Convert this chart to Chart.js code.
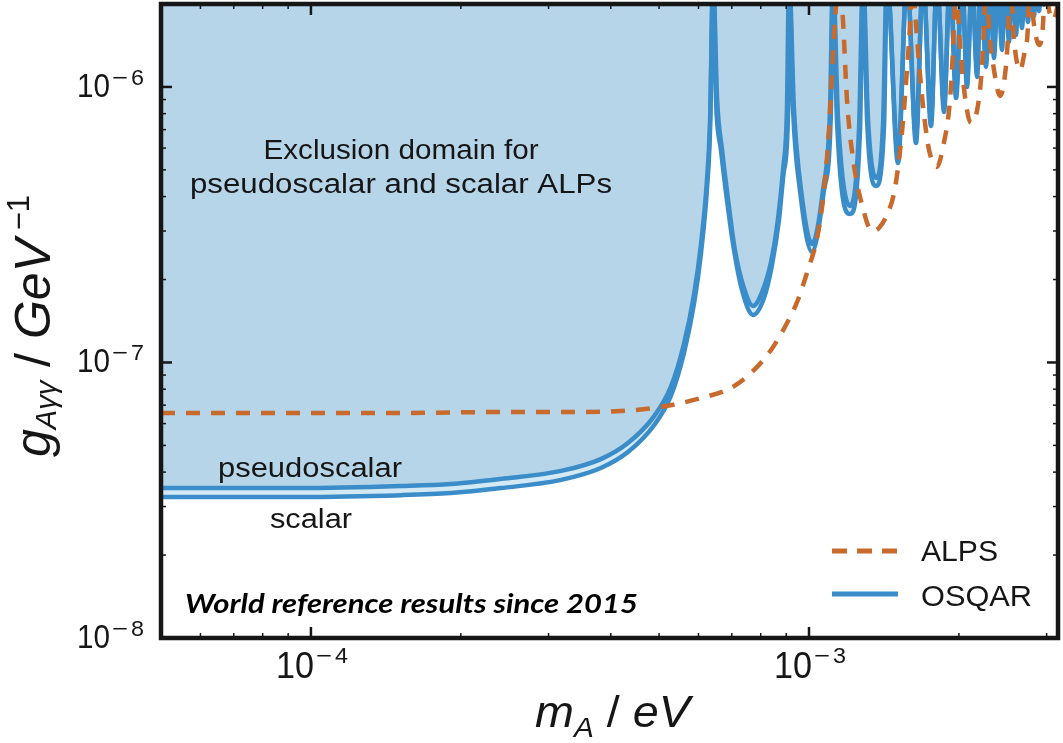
<!DOCTYPE html>
<html lang="en">
<head>
<meta charset="UTF-8">
<title>OSQAR and ALPS exclusion limits</title>
<script src="https://cdn.jsdelivr.net/npm/chart.js@4.4.1/dist/chart.umd.min.js"></script>
<style>
  html, body { margin: 0; padding: 0; background: #ffffff; }
  canvas { display: block; }
</style>
</head>
<body>
<canvas id="limitChart" width="1063" height="743"></canvas>
<script>
// values: [m_A in eV, g in GeV^-1]
// 2.5e-6 marks the places where a curve shoots up past the top of the frame
const osqarPseudoscalar = [
  [5.0e-5, 3.50e-8], [9.55e-5, 3.50e-8], [1.52e-4, 3.56e-8], [1.91e-4, 3.62e-8], [2.41e-4, 3.78e-8],
  [3.18e-4, 4.04e-8], [3.82e-4, 4.46e-8], [4.33e-4, 5.10e-8], [4.89e-4, 6.39e-8], [5.28e-4, 8.15e-8],
  [5.61e-4, 1.167e-7], [5.88e-4, 1.773e-7], [6.07e-4, 2.692e-7], [6.24e-4, 4.597e-7], [6.33e-4, 7.59e-7],
  [6.42e-4, 2.5e-6],
  [6.54e-4, 8.97e-7], [6.69e-4, 5.906e-7], [6.88e-4, 3.889e-7], [7.10e-4, 2.561e-7], [7.37e-4, 1.911e-7],
  [7.72e-4, 1.604e-7], [8.08e-4, 1.833e-7], [8.39e-4, 2.316e-7], [8.66e-4, 3.290e-7], [8.87e-4, 4.996e-7],
  [9.03e-4, 8.25e-7],
  [9.12e-4, 2.5e-6],
  [9.33e-4, 8.25e-7], [9.64e-4, 4.227e-7], [1.014e-3, 2.692e-7], [1.067e-3, 4.227e-7], [1.102e-3, 8.25e-7],
  [1.117e-3, 2.5e-6],
  [1.144e-3, 7.59e-7], [1.209e-3, 3.699e-7], [1.260e-3, 6.981e-7],
  [1.284e-3, 2.5e-6],
  [1.314e-3, 7.59e-7], [1.363e-3, 4.673e-7], [1.408e-3, 7.278e-7],
  [1.434e-3, 2.5e-6],
  [1.509e-3, 5.666e-7], [1.573e-3, 2.5e-6], [1.640e-3, 6.695e-7], [1.694e-3, 2.5e-6],
  [1.758e-3, 7.718e-7], [1.807e-3, 2.5e-6], [1.867e-3, 8.676e-7], [1.919e-3, 2.5e-6],
  [1.974e-3, 9.752e-7], [2.029e-3, 2.5e-6], [2.076e-3, 1.069e-6], [2.125e-3, 2.5e-6],
  [2.175e-3, 1.162e-6], [2.215e-3, 2.5e-6], [2.267e-3, 1.264e-6], [2.309e-3, 2.5e-6],
  [2.352e-3, 1.362e-6], [2.396e-3, 2.5e-6], [2.441e-3, 1.457e-6], [2.475e-3, 2.5e-6],
  [2.521e-3, 1.557e-6], [2.556e-3, 2.5e-6], [2.604e-3, 1.651e-6], [2.640e-3, 2.5e-6],
  [2.677e-3, 1.751e-6], [2.714e-3, 2.5e-6], [2.752e-3, 1.841e-6], [2.791e-3, 2.5e-6],
  [2.830e-3, 1.936e-6], [2.856e-3, 2.5e-6], [2.896e-3, 2.018e-6], [2.936e-3, 2.5e-6],
  [3.2e-3, 2.5e-6]
];

const osqarScalar = [
  [5.0e-5, 3.25e-8], [9.55e-5, 3.25e-8], [1.52e-4, 3.30e-8], [1.91e-4, 3.36e-8], [2.41e-4, 3.50e-8],
  [3.18e-4, 3.75e-8], [3.82e-4, 4.14e-8], [4.33e-4, 4.73e-8], [4.89e-4, 5.93e-8], [5.28e-4, 7.56e-8],
  [5.61e-4, 1.083e-7], [5.88e-4, 1.644e-7], [6.07e-4, 2.497e-7], [6.24e-4, 4.264e-7], [6.33e-4, 7.039e-7],
  [6.42e-4, 2.5e-6],
  [6.505e-4, 8.97e-7], [6.657e-4, 5.906e-7], [6.844e-4, 3.889e-7], [7.070e-4, 2.561e-7], [7.336e-4, 1.833e-7],
  [7.72e-4, 1.488e-7], [8.121e-4, 1.715e-7], [8.427e-4, 2.259e-7], [8.704e-4, 3.290e-7], [8.910e-4, 4.996e-7],
  [9.08e-4, 8.25e-7],
  [9.12e-4, 2.5e-6],
  [9.29e-4, 8.25e-7], [9.59e-4, 4.227e-7], [1.014e-3, 2.519e-7], [1.072e-3, 4.227e-7], [1.107e-3, 8.25e-7],
  [1.117e-3, 2.5e-6],
  [1.138e-3, 7.59e-7], [1.209e-3, 3.459e-7], [1.266e-3, 6.981e-7],
  [1.284e-3, 2.5e-6],
  [1.308e-3, 7.59e-7], [1.363e-3, 4.372e-7], [1.415e-3, 7.278e-7],
  [1.434e-3, 2.5e-6],
  [1.509e-3, 5.298e-7], [1.573e-3, 2.5e-6], [1.640e-3, 6.261e-7], [1.694e-3, 2.5e-6],
  [1.758e-3, 7.217e-7], [1.807e-3, 2.5e-6], [1.867e-3, 8.116e-7], [1.919e-3, 2.5e-6],
  [1.974e-3, 9.123e-7], [2.029e-3, 2.5e-6], [2.076e-3, 1.000e-6], [2.125e-3, 2.5e-6],
  [2.175e-3, 1.087e-6], [2.215e-3, 2.5e-6], [2.267e-3, 1.182e-6], [2.309e-3, 2.5e-6],
  [2.352e-3, 1.274e-6], [2.396e-3, 2.5e-6], [2.441e-3, 1.362e-6], [2.475e-3, 2.5e-6],
  [2.521e-3, 1.457e-6], [2.556e-3, 2.5e-6], [2.604e-3, 1.544e-6], [2.640e-3, 2.5e-6],
  [2.677e-3, 1.638e-6], [2.714e-3, 2.5e-6], [2.752e-3, 1.722e-6], [2.791e-3, 2.5e-6],
  [2.830e-3, 1.810e-6], [2.856e-3, 2.5e-6], [2.896e-3, 1.887e-6], [2.936e-3, 2.5e-6],
  [2.964e-3, 1.985e-6], [3.005e-3, 2.5e-6], [3.2e-3, 2.5e-6]
];

const alps = [
  [5.0e-5, 6.56e-8], [1.52e-4, 6.56e-8], [2.41e-4, 6.61e-8], [3.18e-4, 6.61e-8], [4.19e-4, 6.67e-8],
  [5.04e-4, 6.89e-8], [6.07e-4, 7.43e-8], [6.97e-4, 8.08e-8], [7.65e-4, 9.16e-8], [8.39e-4, 1.110e-7],
  [8.99e-4, 1.368e-7], [9.50e-4, 1.686e-7], [9.95e-4, 2.167e-7], [1.033e-3, 2.715e-7], [1.057e-3, 3.431e-7],
  [1.077e-3, 4.597e-7], [1.097e-3, 6.981e-7], [1.112e-3, 1.106e-6], [1.128e-3, 1.751e-6],
  [1.149e-3, 2.5e-6],
  [1.170e-3, 1.751e-6], [1.192e-3, 8.97e-7], [1.231e-3, 5.211e-7], [1.278e-3, 3.729e-7], [1.338e-3, 3.001e-7],
  [1.382e-3, 3.077e-7], [1.434e-3, 3.431e-7], [1.482e-3, 4.123e-7], [1.516e-3, 5.433e-7], [1.545e-3, 7.59e-7],
  [1.573e-3, 1.153e-6], [1.595e-3, 1.679e-6],
  [1.610e-3, 2.5e-6],
  [1.640e-3, 1.679e-6], [1.671e-3, 1.106e-6], [1.702e-3, 7.914e-7], [1.742e-3, 5.906e-7], [1.807e-3, 5.124e-7],
  [1.867e-3, 6.315e-7], [1.911e-3, 8.25e-7], [1.937e-3, 1.153e-6], [1.955e-3, 1.679e-6],
  [1.974e-3, 2.5e-6],
  [2.001e-3, 1.610e-6], [2.038e-3, 1.060e-6], [2.115e-3, 7.40e-7], [2.185e-3, 8.603e-7], [2.226e-3, 1.202e-6],
  [2.246e-3, 1.679e-6],
  [2.267e-3, 2.5e-6],
  [2.299e-3, 1.610e-6], [2.352e-3, 1.153e-6], [2.418e-3, 9.276e-7], [2.475e-3, 1.106e-6], [2.510e-3, 1.544e-6],
  [2.533e-3, 2.5e-6],
  [2.580e-3, 1.481e-6], [2.653e-3, 1.153e-6], [2.714e-3, 1.362e-6], [2.752e-3, 1.679e-6],
  [2.765e-3, 2.5e-6],
  [2.830e-3, 1.679e-6], [2.896e-3, 1.421e-6], [2.950e-3, 1.679e-6],
  [2.977e-3, 2.5e-6],
  [3.033e-3, 1.903e-6], [3.090e-3, 1.751e-6], [3.148e-3, 1.936e-6],
  [3.2e-3, 2.5e-6]
];

// axes
const xRange = [5e-5, 3.162e-3];
const yRange = [1e-8, 2e-6];
const xMajorTicks = [1e-4, 1e-3];
const xTickExponents = ['4', '3'];
const xMinorTicks = [6e-5, 7e-5, 8e-5, 9e-5, 2e-4, 3e-4, 4e-4, 5e-4, 6e-4, 7e-4, 8e-4, 9e-4, 2e-3, 3e-3];
const yMajorTicks = [1e-8, 1e-7, 1e-6];
const yTickExponents = ['8', '7', '6'];
const yMinorTicks = [2e-8, 3e-8, 4e-8, 5e-8, 6e-8, 7e-8, 8e-8, 9e-8, 2e-7, 3e-7, 4e-7, 5e-7, 6e-7, 7e-7, 8e-7, 9e-7];

const ink = '#161616';
const osqarBlue = '#3a8dc8';
const excludedFill = '#b6d5e9';
const betweenFill = '#d3eaf6';
const alpsOrange = '#c86a2c';
const sans = '"Liberation Sans", Arial, sans-serif';

function toPoints(list) {
  return list.map(p => ({ x: p[0], y: p[1] }));
}

// draws a row of text pieces [text, font, baseline shift], squeezed to a given width
function drawRun(ctx, pieces, width, align) {
  let total = 0;
  const widths = pieces.map(p => {
    ctx.font = p[1];
    const w = ctx.measureText(p[0]).width;
    total += w;
    return w;
  });
  ctx.save();
  ctx.scale(width / total, 1);
  let cx = align === 'center' ? -total / 2 : 0;
  pieces.forEach((p, i) => {
    ctx.font = p[1];
    ctx.fillText(p[0], cx, p[2]);
    cx += widths[i];
  });
  ctx.restore();
}

function textAt(ctx, x, y, pieces, width, align) {
  ctx.save();
  ctx.translate(x, y);
  drawRun(ctx, pieces, width, align);
  ctx.restore();
}

// "10" with a superscript exponent, "10" ending at x
function powerLabel(ctx, x, base, supBase, exp, tenWidth, size) {
  textAt(ctx, x - tenWidth, base, [['10', size + 'px ' + sans, 0]], tenWidth);
  textAt(ctx, x + 2, supBase, [['\u2212', '22px ' + sans, 0]], 16);
  textAt(ctx, x + 21, supBase, [[exp, '22px ' + sans, 0]], 13);
}

const frameAndText = {
  id: 'frameAndText',
  afterDraw(chart) {
    const ctx = chart.ctx;
    const a = chart.chartArea;
    const xs = chart.scales.x;
    const ys = chart.scales.y;
    ctx.save();
    ctx.strokeStyle = ink;
    ctx.fillStyle = ink;
    ctx.textBaseline = 'alphabetic';
    ctx.textAlign = 'left';

    function tick(x1, y1, x2, y2, w) {
      ctx.lineWidth = w;
      ctx.beginPath();
      ctx.moveTo(x1, y1);
      ctx.lineTo(x2, y2);
      ctx.stroke();
    }
    // ticks point inwards on all four sides
    xMajorTicks.forEach(v => {
      const px = xs.getPixelForValue(v);
      tick(px, a.bottom, px, a.bottom - 11, 2.5);
      tick(px, a.top, px, a.top + 11, 2.5);
    });
    xMinorTicks.forEach(v => {
      const px = xs.getPixelForValue(v);
      tick(px, a.bottom, px, a.bottom - 5, 1.5);
      tick(px, a.top, px, a.top + 5, 1.5);
    });
    yMajorTicks.forEach(v => {
      const py = ys.getPixelForValue(v);
      tick(a.left, py, a.left + 11, py, 2.5);
      tick(a.right, py, a.right - 11, py, 2.5);
    });
    yMinorTicks.forEach(v => {
      const py = ys.getPixelForValue(v);
      tick(a.left, py, a.left + 5, py, 1.5);
      tick(a.right, py, a.right - 5, py, 1.5);
    });
    ctx.lineWidth = 4.5;
    ctx.strokeRect(a.left, a.top, a.right - a.left, a.bottom - a.top);

    // tick labels
    xMajorTicks.forEach((v, i) => {
      const px = xs.getPixelForValue(v);
      powerLabel(ctx, px + 3, 678, 663, xTickExponents[i], 38, 36);
    });
    yMajorTicks.forEach((v, i) => {
      const py = ys.getPixelForValue(v);
      powerLabel(ctx, 110, py + 10, py - 2, yTickExponents[i], 33, 34);
    });

    // axis titles
    textAt(ctx, 535, 727, [
      ['m', 'italic 44px ' + sans, 0],
      ['A', 'italic 28px ' + sans, 10],
      [' / ', '44px ' + sans, 0],
      ['eV', 'italic 44px ' + sans, 0]
    ], 155);
    ctx.save();
    ctx.translate(50, 457);
    ctx.rotate(-Math.PI / 2);
    drawRun(ctx, [
      ['g', 'italic 50px ' + sans, 0],
      ['A\u03b3\u03b3', 'italic 29px ' + sans, 6],
      [' / ', '50px ' + sans, 0],
      ['GeV', 'italic 50px ' + sans, 0],
      [' \u22121', '31px ' + sans, -21]
    ], 262);
    ctx.restore();

    // notes inside the frame
    textAt(ctx, 401, 159, [['Exclusion domain for', '27px ' + sans, 0]], 275, 'center');
    textAt(ctx, 401, 193, [['pseudoscalar and scalar ALPs', '27px ' + sans, 0]], 422, 'center');
    textAt(ctx, 218, 477, [['pseudoscalar', '27px ' + sans, 0]], 184);
    textAt(ctx, 270, 528, [['scalar', '27px ' + sans, 0]], 82);
    ctx.fillStyle = '#000000';
    textAt(ctx, 185, 613, [['World reference results since 2015', 'italic bold 27px Lato, "Open Sans", sans-serif', 0]], 453);

    // legend
    ctx.lineCap = 'butt';
    ctx.strokeStyle = alpsOrange;
    ctx.lineWidth = 5;
    ctx.setLineDash([15, 10]);
    ctx.beginPath();
    ctx.moveTo(832, 551);
    ctx.lineTo(898, 551);
    ctx.stroke();
    ctx.setLineDash([]);
    ctx.strokeStyle = osqarBlue;
    ctx.beginPath();
    ctx.moveTo(832, 594);
    ctx.lineTo(898, 594);
    ctx.stroke();
    ctx.fillStyle = ink;
    textAt(ctx, 921, 561, [['ALPS', '30px ' + sans, 0]], 77);
    textAt(ctx, 921, 606, [['OSQAR', '30px ' + sans, 0]], 111);
    ctx.restore();
  }
};

new Chart(document.getElementById('limitChart'), {
  type: 'line',
  data: {
    datasets: [
      {
        label: 'ALPS',
        data: toPoints(alps),
        borderColor: alpsOrange,
        borderWidth: 4.5,
        borderDash: [14, 11],
        fill: false
      },
      {
        label: 'OSQAR pseudoscalar',
        data: toPoints(osqarPseudoscalar),
        borderColor: osqarBlue,
        backgroundColor: excludedFill,
        borderWidth: 4.5,
        fill: 'end'
      },
      {
        label: 'OSQAR scalar',
        data: toPoints(osqarScalar),
        borderColor: osqarBlue,
        backgroundColor: betweenFill,
        borderWidth: 4.5,
        fill: '-1'
      }
    ]
  },
  options: {
    responsive: false,
    animation: false,
    devicePixelRatio: 1,
    layout: { padding: { left: 161, right: 5, top: 4, bottom: 105 } },
    elements: {
      point: { radius: 0, hoverRadius: 0 },
      line: { cubicInterpolationMode: 'monotone', capBezierPoints: false, borderCapStyle: 'butt', borderJoinStyle: 'round' }
    },
    scales: {
      x: { type: 'logarithmic', min: xRange[0], max: xRange[1], display: false },
      y: { type: 'logarithmic', min: yRange[0], max: yRange[1], display: false }
    },
    plugins: {
      legend: { display: false },
      tooltip: { enabled: false },
      filler: { drawTime: 'beforeDatasetsDraw' }
    }
  },
  plugins: [frameAndText]
});
</script>
</body>
</html>
